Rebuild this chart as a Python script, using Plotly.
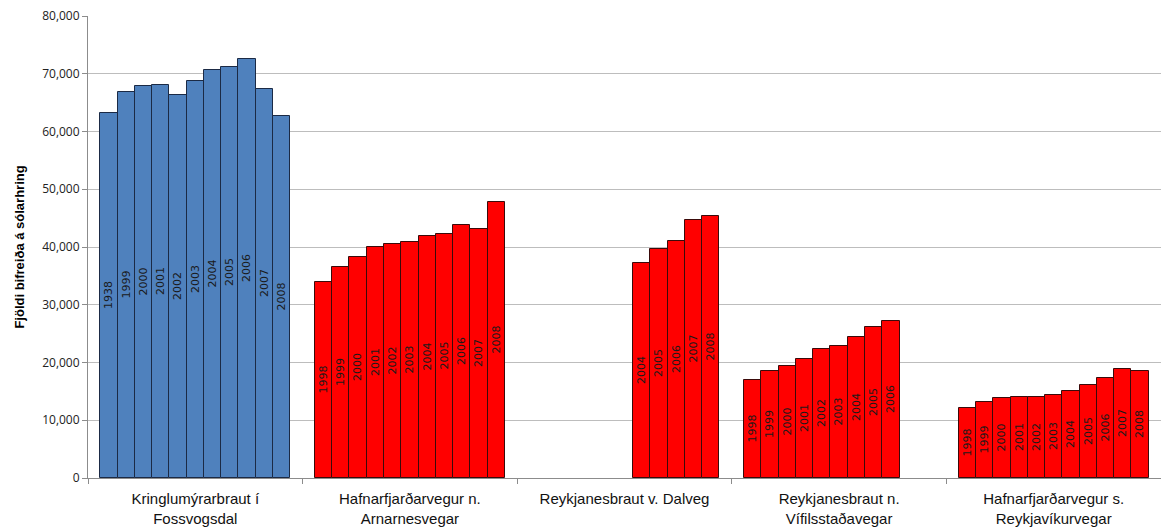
import plotly.graph_objects as go

# Daily traffic counts (vehicles per day) at five counting stations
stations = [
    "Kringlumýrarbraut í<br>Fossvogsdal",
    "Hafnarfjarðarvegur n.<br>Arnarnesvegar",
    "Reykjanesbraut v. Dalveg",
    "Reykjanesbraut n.<br>Vífilsstaðavegar",
    "Hafnarfjarðarvegur s.<br>Reykjavíkurvegar",
]
years = [1998, 1999, 2000, 2001, 2002, 2003, 2004, 2005, 2006, 2007, 2008]

kringlumyrarbraut = [63200, 66800, 67900, 68100, 66300, 68800, 70600, 71100, 72500, 67300, 62700]
hafnarfj_arnarnes = [33900, 36500, 38200, 40000, 40500, 40900, 41900, 42200, 43800, 43100, 47800]
reykjanesbr_dalveg = [None, None, None, None, None, None, 37200, 39700, 41100, 44700, 45400]
reykjanesbr_vifils = [17000, 18600, 19400, 20600, 22400, 22900, 24400, 26200, 27200, None, None]
hafnarfj_reykjav = [12200, 13200, 13900, 14100, 14100, 14400, 15100, 16100, 17400, 18900, 18500]

# year labels printed inside the bars (first station's series carries its own label text)
kringlumyrarbraut_labels = ["1938", "1999", "2000", "2001", "2002", "2003", "2004", "2005", "2006", "2007", "2008"]
year_labels = [str(y) for y in years]

series = [kringlumyrarbraut, hafnarfj_arnarnes, reykjanesbr_dalveg, reykjanesbr_vifils, hafnarfj_reykjav]
labels = [kringlumyrarbraut_labels, year_labels, year_labels, year_labels, year_labels]
fills = ["#4F81BD", "#FF0000", "#FF0000", "#FF0000", "#FF0000"]
edges = ["#1B2A45", "#3A0A0A", "#3A0A0A", "#3A0A0A", "#3A0A0A"]

slot = 0.885 / len(years)  # width of one year slot within a station group

fig = go.Figure()
for gi, (vals, txt) in enumerate(zip(series, labels)):
    xs, ys, ts = [], [], []
    for j, v in enumerate(vals):
        if v is None:
            continue
        xs.append(gi + (j - (len(years) - 1) / 2) * slot)
        ys.append(v)
        ts.append(txt[j])
    fig.add_trace(go.Bar(
        x=xs, y=ys, width=slot, text=ts,
        textposition="inside", insidetextanchor="middle", textangle=-90,
        constraintext="none",
        textfont=dict(family="DejaVu Sans", size=11, color="#1A1A1A"),
        marker=dict(color=fills[gi], line=dict(color=edges[gi], width=1)),
        showlegend=False, hoverinfo="x+y",
    ))

# invisible helper trace that carries the group-boundary tick axis
fig.add_trace(go.Scatter(x=[-0.5, 4.5], y=[0, 0], xaxis="x2", mode="markers",
                         marker=dict(opacity=0), showlegend=False, hoverinfo="skip"))

fig.update_layout(
    width=1161, height=527,
    margin=dict(l=88, r=0, t=16, b=49),
    paper_bgcolor="white", plot_bgcolor="white",
    bargap=0,
    xaxis=dict(
        range=[-0.5, 4.5],
        tickmode="array", tickvals=list(range(len(stations))), ticktext=stations,
        ticks="", showgrid=False, zeroline=False,
        showline=True, linecolor="#8C8C8C", linewidth=1,
        tickfont=dict(family="Liberation Sans", size=15, color="#111111"),
        ticklabelstandoff=7,
    ),
    xaxis2=dict(
        overlaying="x", side="bottom", anchor="y",
        range=[-0.5, 4.5],
        tickmode="array", tickvals=[-0.5, 0.5, 1.5, 2.5, 3.5, 4.5],
        ticks="outside", ticklen=5, tickcolor="#8C8C8C",
        showticklabels=False, showgrid=False, zeroline=False, showline=False,
    ),
    yaxis=dict(
        range=[0, 80000], tickmode="linear", tick0=0, dtick=10000,
        tickformat=",d",
        showgrid=True, gridcolor="#BDBDBD", gridwidth=1,
        zeroline=False, showline=True, linecolor="#8C8C8C", linewidth=1,
        ticks="outside", ticklen=5, tickcolor="#8C8C8C",
        tickfont=dict(family="Open Sans", size=12, color="#222222"),
        title=dict(text="Fjöldi bifreiða á sólarhring", standoff=14,
                   font=dict(family="Liberation Sans", size=13, color="#000000", weight="bold")),
    ),
)

fig.write_html("out.html")
